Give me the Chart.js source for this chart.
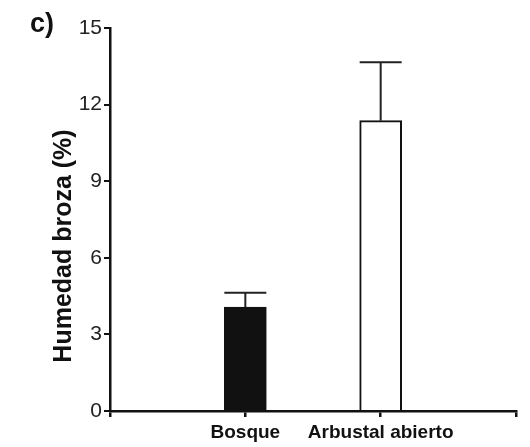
<!DOCTYPE html>
<html><head><meta charset="utf-8">
<script src="https://cdn.jsdelivr.net/npm/chart.js@4/dist/chart.umd.min.js"></script>
<style>html,body{margin:0;padding:0;background:#fff}#wrap{width:530px;height:447px}</style>
</head><body><div id="wrap"><canvas id="c" width="530" height="447"></canvas></div>
<script>
const categories = ['Bosque', 'Arbustal abierto'];
const means = [4.07, 11.37];
const errors = [0.56, 2.29];
const barFill = ['#111111', '#ffffff'];
const yTicks = [0, 3, 6, 9, 12, 15];
const yTitle = 'Humedad broza (%)';
const panelLabel = 'c)';

const INK = '#111111';
const FONT = "'Liberation Sans', Arial, sans-serif";

const labels = ['', ...categories, ''];
const data = [null, ...means, null];
const errs = [null, ...errors, null];
const fills = ['#fff', ...barFill, '#fff'];

const errorBars = {
  id: 'errorBars',
  afterDatasetsDraw(chart) {
    const meta = chart.getDatasetMeta(0);
    const y = chart.scales.y;
    const ctx = chart.ctx;
    ctx.save();
    ctx.strokeStyle = '#222';
    ctx.lineWidth = 2;
    meta.data.forEach((bar, i) => {
      if (data[i] == null) return;
      const yM = y.getPixelForValue(data[i]);
      const yT = y.getPixelForValue(data[i] + errs[i]);
      const half = bar.width / 2;
      ctx.beginPath();
      ctx.moveTo(bar.x, yM);
      ctx.lineTo(bar.x, yT);
      ctx.moveTo(bar.x - half, yT);
      ctx.lineTo(bar.x + half, yT);
      ctx.stroke();
    });
    ctx.restore();
  }
};

const texts = {
  id: 'texts',
  afterDraw(chart) {
    const ctx = chart.ctx;
    ctx.save();
    ctx.fillStyle = INK;
    ctx.font = "bold 27px " + FONT;
    ctx.textAlign = 'center';
    ctx.textBaseline = 'middle';
    ctx.fillText(panelLabel, 42, 25);
    ctx.translate(64, 246);
    ctx.rotate(-Math.PI / 2);
    ctx.font = "bold 25px " + FONT;
    ctx.fillText(yTitle, 0, 0);
    ctx.restore();
  }
};

new Chart(document.getElementById('c'), {
  type: 'bar',
  data: {
    labels: labels,
    datasets: [{
      data: data,
      backgroundColor: fills,
      borderColor: INK,
      borderWidth: 2,
      barThickness: 42
    }]
  },
  options: {
    responsive: false,
    animation: false,
    devicePixelRatio: 1,
    layout: { padding: { left: 0, top: 28, right: 14, bottom: 0 } },
    plugins: { legend: { display: false }, tooltip: { enabled: false } },
    scales: {
      x: {
        offset: false,
        afterFit(s) { s.height = 36; },
        grid: { display: true, offset: false, drawOnChartArea: false, drawTicks: true, tickLength: 6, color: INK, lineWidth: 2.5 },
        border: { display: true, color: INK, width: 2.5 },
        ticks: { color: INK, padding: 4, maxRotation: 0, autoSkip: false, font: { family: FONT, size: 19, weight: 'bold' } }
      },
      y: {
        min: 0, max: 15,
        afterFit(s) { s.width = 110; },
        afterBuildTicks(s) { s.ticks = yTicks.map(v => ({ value: v })); },
        grid: { display: true, drawOnChartArea: false, drawTicks: true, tickLength: 6, color: INK, lineWidth: 2 },
        border: { display: true, color: INK, width: 2.5 },
        ticks: { color: '#222', padding: 2, font: { family: FONT, size: 21 } }
      }
    }
  },
  plugins: [errorBars, texts]
});
</script></body></html>
